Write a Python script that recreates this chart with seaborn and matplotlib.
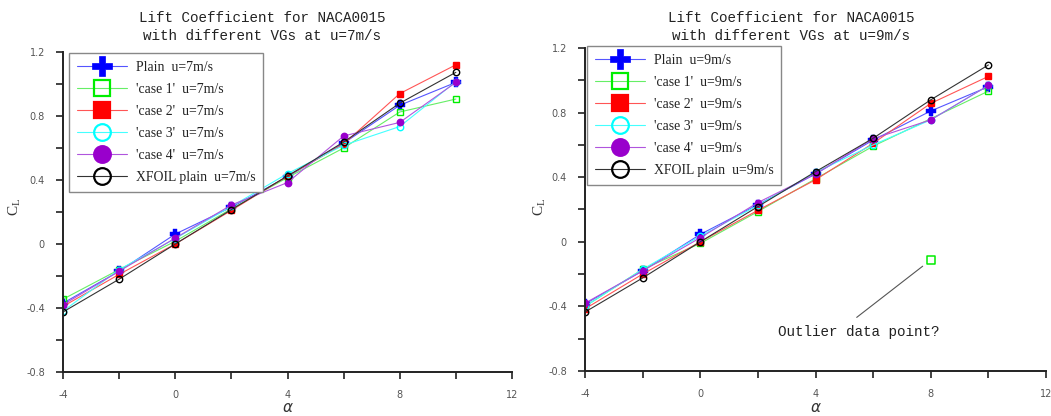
import numpy as np
import pandas as pd
import matplotlib
matplotlib.use("Agg")
import matplotlib.pyplot as plt
from matplotlib.lines import Line2D
from matplotlib.ticker import MultipleLocator
import seaborn as sns

sns.set_theme(style="white")
plt.rcParams["font.family"] = ["DejaVu Sans"]

# Angle of attack (deg)
alpha = [-4, -2, 0, 2, 4, 6, 8, 10]

# Lift coefficient at u = 7 m/s
cl7_plain = [-0.37, -0.17, 0.062, 0.23, 0.42, 0.63, 0.867, 1.01]
cl7_case1 = [-0.345, -0.16, 0.017, 0.22, 0.415, 0.60, 0.825, 0.906]
cl7_case2 = [-0.39, -0.19, 0.0, 0.21, 0.425, 0.625, 0.94, 1.12]
cl7_case3 = [-0.42, -0.16, 0.034, 0.235, 0.44, 0.617, 0.734, 1.015]
cl7_case4 = [-0.38, -0.17, 0.037, 0.244, 0.384, 0.675, 0.76, 1.01]
cl7_xfoil = [-0.425, -0.22, 0.0, 0.215, 0.425, 0.637, 0.88, 1.073]

# Lift coefficient at u = 9 m/s (case 1 at 8 deg is the suspect reading)
cl9_plain = [-0.385, -0.18, 0.046, 0.23, 0.42, 0.63, 0.81, 0.96]
cl9_case1 = [-0.40, -0.17, -0.01, 0.187, 0.39, 0.592, -0.114, 0.933]
cl9_case2 = [-0.415, -0.20, 0.0, 0.195, 0.384, 0.61, 0.857, 1.024]
cl9_case3 = [-0.40, -0.17, 0.035, 0.225, 0.43, 0.60, 0.755, 0.968]
cl9_case4 = [-0.38, -0.18, 0.025, 0.243, 0.42, 0.638, 0.755, 0.968]
cl9_xfoil = [-0.435, -0.224, 0.0, 0.218, 0.434, 0.641, 0.879, 1.095]
outlier_alpha = 8

series_keys = ["Plain", "'case 1'", "'case 2'", "'case 3'", "'case 4'", "XFOIL plain"]
colors = ["#0000ff", "#00ee00", "#ff0000", "#00ffff", "#9900cc", "#000000"]
line_colors = ["#5555ff", "#66ee66", "#ff5555", "#44ffff", "#b055dd", "#333333"]
markers = ["P", "s", "s", "o", "o", "o"]
filled = [True, False, True, False, True, False]

speed_data = {
    7: [cl7_plain, cl7_case1, cl7_case2, cl7_case3, cl7_case4, cl7_xfoil],
    9: [cl9_plain, cl9_case1, cl9_case2, cl9_case3, cl9_case4, cl9_xfoil],
}

W, H = 1051, 416
fig = plt.figure(figsize=(W / 100, H / 100), dpi=100)

# axes boxes in pixels: left, right, top(1.2), bottom(-0.8)
boxes = {7: (63, 512, 52, 372), 9: (585, 1046, 48, 371)}
title_x = {7: 262, 9: 791.5}
legend_box = {7: (69, 53), 9: (587, 46)}
ylabel_x = {7: 23, 9: 548}

mono = ["Liberation Mono"]
serif = ["Liberation Serif"]

for u in (7, 9):
    l, r, t, b = boxes[u]
    ax = fig.add_axes([l / W, (H - b) / H, (r - l) / W, (b - t) / H])
    frames = []
    for key, vals in zip(series_keys, speed_data[u]):
        frames.append(pd.DataFrame({"alpha": alpha, "CL": vals, "series": key}))
    df = pd.concat(frames, ignore_index=True)

    for key, c, lc, m, f in zip(series_keys, colors, line_colors, markers, filled):
        sub = df[df["series"] == key]
        if u == 9 and key == "'case 1'":
            odd = sub[sub["alpha"] == outlier_alpha]
            sub = sub[sub["alpha"] != outlier_alpha]
            sns.scatterplot(data=odd, x="alpha", y="CL", ax=ax, marker="s",
                            s=30, facecolor="none", edgecolor=c, linewidth=1.1,
                            zorder=4, legend=False)
        ms = 6.5 if m == "P" else 4.6
        sns.lineplot(data=sub, x="alpha", y="CL", ax=ax, color=lc, lw=0.8,
                     marker=m, markersize=ms,
                     markerfacecolor=c if f else "none",
                     markeredgecolor=c, markeredgewidth=1.0 if m != "P" else 0.3,
                     legend=False, sort=False, errorbar=None)

    ax.set_xlim(-4, 12)
    ax.set_ylim(-0.8, 1.2)
    ax.xaxis.set_minor_locator(MultipleLocator(2))
    ax.yaxis.set_minor_locator(MultipleLocator(0.2))
    ax.set_xticks([-4, 0, 4, 8, 12])
    ax.set_xticklabels(["-4", "0", "4", "8", "12"])
    ax.set_yticks([-0.8, -0.4, 0, 0.4, 0.8, 1.2])
    ax.set_yticklabels(["-0.8", "-0.4", "0", "0.4", "0.8", "1.2"])
    for side in ("top", "right"):
        ax.spines[side].set_visible(False)
    for side in ("left", "bottom"):
        ax.spines[side].set_color("#222222")
        ax.spines[side].set_linewidth(1.4)
    ax.set_facecolor("white")
    ax.tick_params(which="both", direction="out", length=5, width=1.2,
                   color="#222222", labelsize=7, labelcolor="#555555",
                   left=True, bottom=True)
    ax.tick_params(axis="x", which="major", pad=8)
    ax.tick_params(axis="y", which="major", pad=8)
    ax.grid(False)
    ax.set_xlabel(r"$\alpha$", fontsize=11, color="#333333", va="center")
    ax.xaxis.set_label_coords(0.5, (b - 407) / (b - t))
    ax.set_ylabel(r"$\mathregular{C_L}$", fontsize=11, family=serif,
                  color="#333333")
    ax.yaxis.set_label_coords((ylabel_x[u] - l) / (r - l), (b - 207) / (b - t))

    ax.text((title_x[u] - l) / (r - l), (b - 27) / (b - t),
            f"Lift Coefficient for NACA0015\nwith different VGs at u={u}m/s",
            transform=ax.transAxes, ha="center", va="center",
            family=mono, fontsize=10.3, linespacing=1.3, color="#222222")

    handles = []
    labels = []
    for key, c, lc, m, f in zip(series_keys, colors, line_colors, markers, filled):
        handles.append(Line2D([0], [0], color=lc, lw=0.8, marker=m,
                              markersize=14 if m == "P" else 12,
                              markerfacecolor=c if f else "none",
                              markeredgecolor=c,
                              markeredgewidth=0.5 if m == "P" else 1.6))
        labels.append(f"{key}  u={u}m/s")
    lx, ly = legend_box[u]
    leg = ax.legend(handles, labels, loc="upper left",
                    bbox_to_anchor=((lx - l) / (r - l), (b - ly) / (b - t)),
                    borderaxespad=0, frameon=True, fancybox=False,
                    framealpha=1, edgecolor="#888888", handlelength=3.7,
                    handletextpad=0.6, labelspacing=0.66, borderpad=0.55,
                    prop={"family": serif, "size": 9.9})
    leg.get_frame().set_linewidth(1.0)
    for txt in leg.get_texts():
        txt.set_color("#222222")

    if u == 9:
        ax.text(5.5, -0.561, "Outlier data point?", ha="center", va="center",
                family=mono, fontsize=10.3, color="#222222")
        ax.annotate("", xy=(7.72, -0.151), xytext=(5.43, -0.468),
                    arrowprops=dict(arrowstyle="-", color="#555555", lw=0.8,
                                    shrinkA=0, shrinkB=0))

fig.savefig("out.png", dpi=100, facecolor="white")
